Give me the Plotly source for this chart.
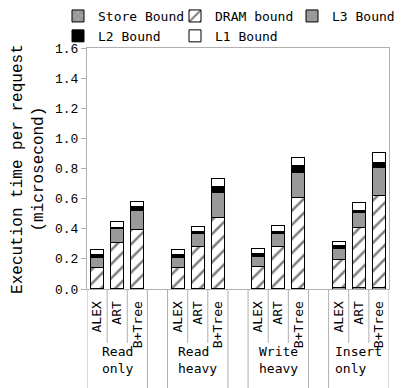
import plotly.graph_objects as go

# workloads (outer level) and index structures (inner level)
workloads = ["Read<br>only", "Read<br>heavy", "Write<br>heavy", "Insert<br>only"]
indexes = ["ALEX", "ART", "B+Tree"]

# execution time per request (microsecond), order: workload x index
store_bound = [0.002, 0.002, 0.004, 0.002, 0.002, 0.004, 0.004, 0.002, 0.004, 0.010, 0.008, 0.010]
dram_bound = [0.144, 0.310, 0.392, 0.139, 0.283, 0.469, 0.144, 0.281, 0.602, 0.188, 0.403, 0.609]
l3_bound = [0.066, 0.088, 0.122, 0.071, 0.084, 0.170, 0.070, 0.084, 0.170, 0.071, 0.097, 0.186]
l2_bound = [0.015, 0.011, 0.033, 0.015, 0.013, 0.040, 0.018, 0.015, 0.044, 0.018, 0.011, 0.035]
l1_bound = [0.033, 0.035, 0.031, 0.033, 0.036, 0.049, 0.033, 0.038, 0.053, 0.027, 0.058, 0.064]

# one empty slot between workload groups
slot = len(indexes) + 1
xpos = [g * slot + i for g in range(len(workloads)) for i in range(len(indexes))]

MONO = "DejaVu Sans Mono"
AXIS_GREY = "#b0b0b0"

series = [
    ("Store Bound", store_bound, dict(color="#a0a0a0", pattern=dict(shape="x", fgcolor="#555555", size=6, solidity=0.2))),
    ("DRAM bound", dram_bound, dict(color="white", pattern=dict(shape="/", fgcolor="black", bgcolor="white",
                                                                 size=10, solidity=0.25))),
    ("L3 Bound", l3_bound, dict(color="#999999")),
    ("L2 Bound", l2_bound, dict(color="black")),
    ("L1 Bound", l1_bound, dict(color="white")),
]

fig = go.Figure()
for name, vals, mk in series:
    fig.add_trace(go.Bar(
        x=xpos, y=vals, name=name, width=0.65,
        marker=dict(line=dict(color="black", width=1), **mk),
    ))

# separators below the axis
shapes = []
n_slots = len(workloads) * slot - 1
for g in range(len(workloads)):
    left = g * slot - 0.5
    right = g * slot + len(indexes) - 0.5
    for xx in (left, right):
        shapes.append(dict(type="line", xref="x", yref="paper", x0=xx, x1=xx, y0=0, y1=-0.42,
                           line=dict(color=AXIS_GREY, width=1)))
    for i in range(1, len(indexes)):
        xx = g * slot + i - 0.5
        shapes.append(dict(type="line", xref="x", yref="paper", x0=xx, x1=xx, y0=0, y1=-0.224,
                           line=dict(color=AXIS_GREY, width=1)))

annotations = []
for g, w in enumerate(workloads):
    annotations.append(dict(text=w, x=g * slot + 1, xref="x", y=0, yref="paper", yshift=-71,
                            yanchor="middle", xanchor="center", align="left", showarrow=False,
                            font=dict(family=MONO, size=13, color="black")))
annotations.append(dict(text="Execution time per request<br>(microsecond)", textangle=-90,
                        x=-0.194, xref="paper", y=0.5, yref="paper", showarrow=False,
                        xanchor="center", yanchor="middle",
                        font=dict(family="Liberation Mono", size=16, color="black")))

fig.update_layout(
    barmode="stack",
    width=403, height=388,
    margin=dict(l=87, r=14, t=48, b=99, autoexpand=False),
    paper_bgcolor="white", plot_bgcolor="white",
    shapes=shapes, annotations=annotations,
    legend=dict(orientation="h", x=-0.096, xanchor="left", y=1.195, yanchor="top",
                entrywidth=72, traceorder="normal", font=dict(family=MONO, size=13, color="black"),
                itemwidth=30, tracegroupgap=0, bgcolor="rgba(0,0,0,0)"),
    xaxis=dict(range=[-0.5, n_slots - 0.5], tickvals=xpos,
               ticktext=[indexes[i % len(indexes)] for i in range(len(xpos))],
               tickangle=-90, ticks="outside", ticklen=6, tickcolor="rgba(0,0,0,0)",
               showgrid=False, showline=True, linecolor=AXIS_GREY, mirror=True, zeroline=False,
               tickfont=dict(family=MONO, size=13, color="black")),
    yaxis=dict(range=[0, 1.6], dtick=0.2, tickformat=".1f", ticks="outside", ticklen=5,
               tickcolor=AXIS_GREY, showgrid=False, showline=True, linecolor=AXIS_GREY, mirror=True,
               zeroline=False, tickfont=dict(family="Liberation Mono", size=13, color="black")),
)

# drop the browser's default page margin so the figure sits at the window corner
fig.write_html("out.html", config={"displayModeBar": False},
               post_script="document.body.style.margin='0';")
